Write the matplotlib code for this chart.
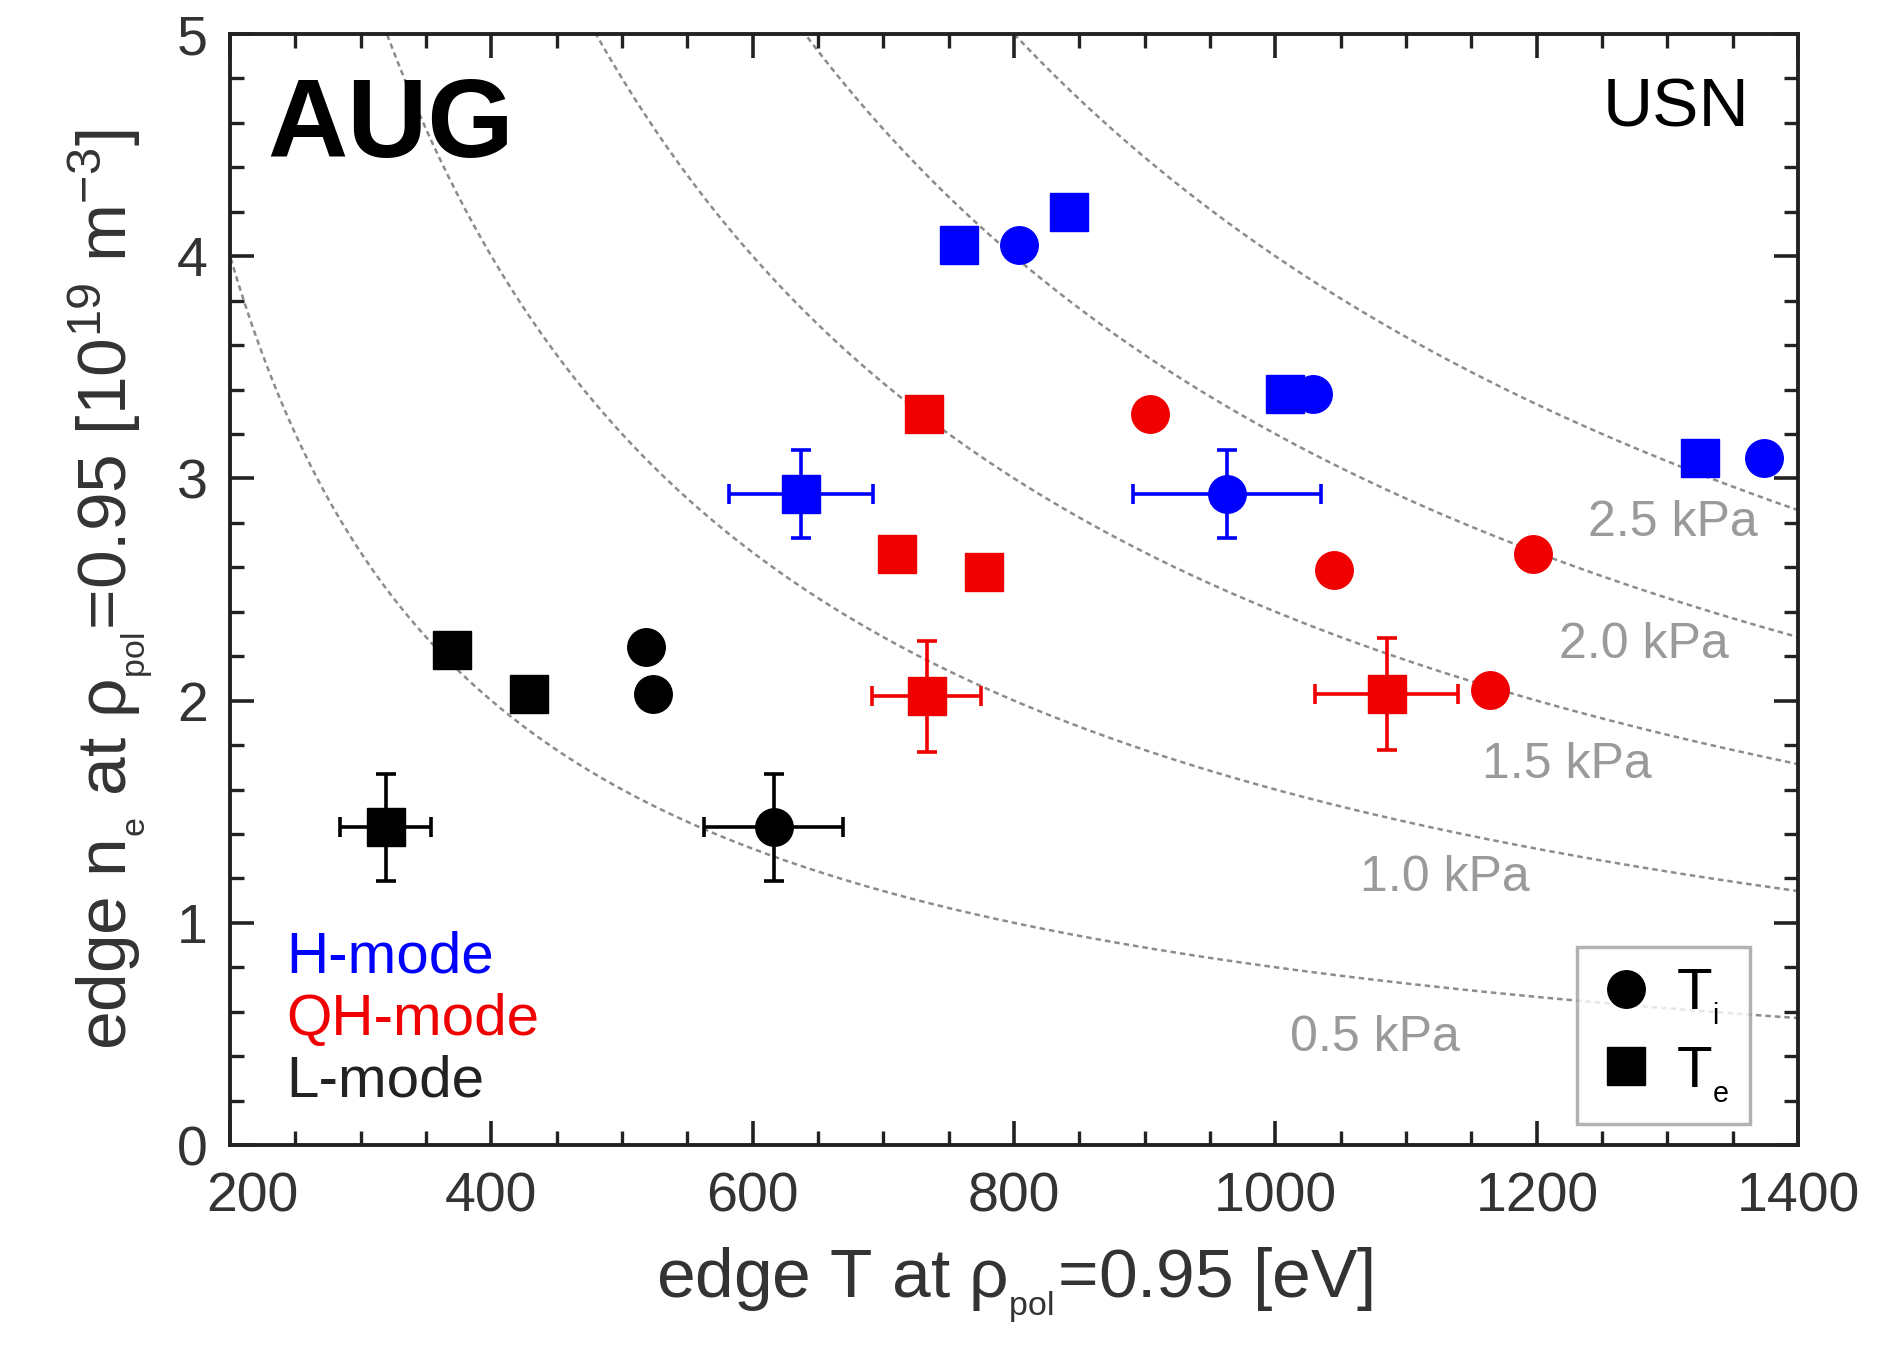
import matplotlib
matplotlib.use("Agg")
import matplotlib.pyplot as plt
import matplotlib.transforms as mtransforms
from matplotlib.lines import Line2D
from matplotlib.ticker import MultipleLocator
import numpy as np

plt.rcParams['font.family'] = ['Liberation Sans', 'DejaVu Sans']
plt.rcParams['mathtext.fontset'] = 'custom'
plt.rcParams['mathtext.rm'] = 'Liberation Sans'
plt.rcParams['mathtext.it'] = 'Liberation Sans'
plt.rcParams['mathtext.bf'] = 'Liberation Sans:bold'

# edge temperature [eV] and density [1e19 m^-3] at rho_pol = 0.95
# H-mode
h_ti_T = [804, 1029, 1374]
h_ti_n = [4.05, 3.38, 3.09]
h_te_T = [758, 842, 1007, 1325]
h_te_n = [4.05, 4.20, 3.38, 3.09]
h_ti_err_T, h_ti_err_n, h_ti_err_dT, h_ti_err_dn = [963], [2.93], [72], [0.20]
h_te_err_T, h_te_err_n, h_te_err_dT, h_te_err_dn = [637], [2.93], [55], [0.20]

# QH-mode
qh_ti_T = [904, 1045, 1197, 1164]
qh_ti_n = [3.29, 2.59, 2.66, 2.05]
qh_te_T = [731, 710, 777]
qh_te_n = [3.29, 2.66, 2.58]
qh_te_err_T = [733, 1085]
qh_te_err_n = [2.02, 2.03]
qh_te_err_dT = [42, 55]
qh_te_err_dn = [0.25, 0.25]

# L-mode
l_ti_T = [518, 524]
l_ti_n = [2.24, 2.03]
l_te_T = [370, 429]
l_te_n = [2.23, 2.03]
l_ti_err_T, l_ti_err_n, l_ti_err_dT, l_ti_err_dn = [616], [1.43], [53], [0.24]
l_te_err_T, l_te_err_n, l_te_err_dT, l_te_err_dn = [319], [1.43], [35], [0.24]

# isobars
p_levels = [0.5, 1.0, 1.5, 2.0, 2.5]   # kPa
nT_per_kPa = 1600.0
p_label_T = [1076, 1130, 1223, 1282, 1304]
p_label_n = [0.48, 1.20, 1.71, 2.25, 2.80]

BLUE = '#0000ff'
RED = '#f00000'
BLACK = '#000000'
MS = 27

fig = plt.figure(figsize=(19, 13.46), dpi=100)
ax = fig.add_axes([0.1211, 0.1493, 0.8253, 0.8254])

T_line = np.linspace(150, 1450, 600)
for p in p_levels:
    ax.plot(T_line, nT_per_kPa * p / T_line, color='#8c8c8c',
            linestyle=(0, (2.2, 1.6)), lw=1.8, zorder=1)
for p, tx, ny in zip(p_levels, p_label_T, p_label_n):
    ax.text(tx, ny, f'{p:.1f} kPa', color='#9a9a9a', fontsize=36,
            ha='center', va='center', zorder=2)


def puntos(T, n, color, marker):
    ax.plot(T, n, linestyle='none', marker=marker, ms=MS, color=color,
            mec=color, zorder=4)


def con_error(T, n, dT, dn, color, marker):
    ax.errorbar(T, n, xerr=dT, yerr=dn, fmt=marker, ms=MS, color=color,
                mec=color, elinewidth=2.6, capsize=7, capthick=2.6, zorder=4)


puntos(h_te_T, h_te_n, BLUE, 's')
puntos(h_ti_T, h_ti_n, BLUE, 'o')
con_error(h_te_err_T, h_te_err_n, h_te_err_dT, h_te_err_dn, BLUE, 's')
con_error(h_ti_err_T, h_ti_err_n, h_ti_err_dT, h_ti_err_dn, BLUE, 'o')

puntos(qh_te_T, qh_te_n, RED, 's')
puntos(qh_ti_T, qh_ti_n, RED, 'o')
con_error(qh_te_err_T, qh_te_err_n, qh_te_err_dT, qh_te_err_dn, RED, 's')

puntos(l_te_T, l_te_n, BLACK, 's')
puntos(l_ti_T, l_ti_n, BLACK, 'o')
con_error(l_te_err_T, l_te_err_n, l_te_err_dT, l_te_err_dn, BLACK, 's')
con_error(l_ti_err_T, l_ti_err_n, l_ti_err_dT, l_ti_err_dn, BLACK, 'o')

ax.set_xlim(200, 1400)
ax.set_ylim(0, 5)
ax.xaxis.set_major_locator(MultipleLocator(200))
ax.xaxis.set_minor_locator(MultipleLocator(50))
ax.yaxis.set_major_locator(MultipleLocator(1))
ax.yaxis.set_minor_locator(MultipleLocator(0.2))
ax.tick_params(which='both', direction='in', top=True, right=True,
               colors='#222222', labelcolor='#333333')
ax.tick_params(which='major', length=17, width=2.6, labelsize=40, pad=16)
ax.tick_params(axis='x', which='major', pad=19)
ax.tick_params(which='minor', length=10, width=2.4)
for s in ax.spines.values():
    s.set_linewidth(2.8)
    s.set_color('#222222')

ax.set_xlabel(r'edge T at $\rho_{_{\rm pol}}$=0.95 [eV]', fontsize=50,
              color='#333333', labelpad=16)
ax.set_ylabel(r'edge n$_{_{\rm e}}$ at $\rho_{_{\rm pol}}$=0.95 [10$^{19}$ m$^{-3}$]',
              fontsize=50, color='#333333', labelpad=16)

ax.text(0.024, 0.962, 'AUG', transform=ax.transAxes, fontsize=80,
        fontweight='bold', ha='left', va='top', zorder=5)
ax.text(0.969, 0.962, 'USN', transform=ax.transAxes, fontsize=50,
        ha='right', va='top', zorder=5)

ax.text(0.036, 0.169, 'H-mode', transform=ax.transAxes, fontsize=42,
        color=BLUE, ha='left', va='center')
ax.text(0.036, 0.1125, 'QH-mode', transform=ax.transAxes, fontsize=42,
        color=RED, ha='left', va='center')
ax.text(0.036, 0.057, 'L-mode', transform=ax.transAxes, fontsize=42,
        color='#222222', ha='left', va='center')

handles = [Line2D([], [], linestyle='none', marker='o', ms=MS, color=BLACK),
           Line2D([], [], linestyle='none', marker='s', ms=MS, color=BLACK)]
leg = ax.legend(handles, [r'T$_{_{\rm i}}$', r'T$_{_{\rm e}}$'], loc='lower right',
                bbox_to_anchor=(0.969, 0.019), borderaxespad=0, fontsize=42,
                frameon=True, fancybox=False, handlelength=1.0,
                handletextpad=0.35, borderpad=0.35, labelspacing=0.3)
leg.get_frame().set_edgecolor('#a0a0a0')
leg.get_frame().set_linewidth(2.5)
leg.set_zorder(6)

# el 200 va corrido a la derecha, lejos del 0 del eje y
fig.canvas.draw()
corrimiento = mtransforms.ScaledTranslation(0.22, 0, fig.dpi_scale_trans)
for tick in ax.xaxis.get_major_ticks():
    if abs(tick.get_loc() - 200) < 1e-6:
        tick.label1.set_transform(tick.label1.get_transform() + corrimiento)

fig.savefig('out.png', dpi=100)
